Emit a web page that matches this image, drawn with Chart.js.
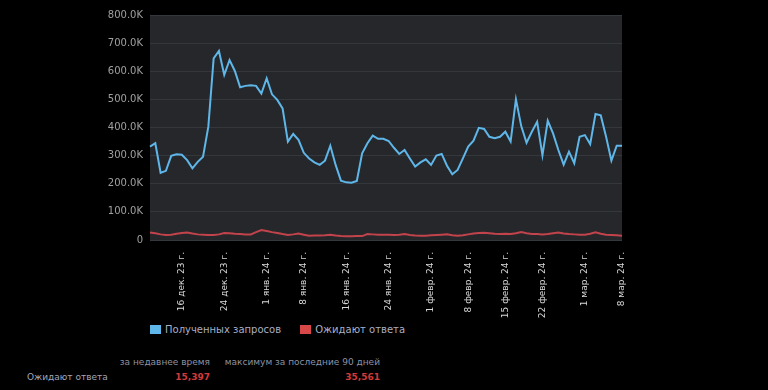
<!DOCTYPE html>
<html>
<head>
<meta charset="utf-8">
<script src="https://cdn.jsdelivr.net/npm/chart.js@4"></script>
<style>
    body { margin: 0; background: #000; width: 768px; height: 390px; overflow: hidden; font-family: 'DejaVu Sans', sans-serif; }
    #wrap { position: absolute; left: 0; top: 0; width: 768px; height: 320px; }
    .legend { position: absolute; left: 150px; top: 323px; font-size: 10px; color: #a9afc4; line-height: 14px; white-space: nowrap; }
    .legend span.box { display: inline-block; width: 11px; height: 9px; vertical-align: -1px; margin-right: 4px; }
    .legend span.item { margin-right: 16px; }
    .txt { position: absolute; font-size: 9px; white-space: nowrap; line-height: 12px; }
    .head { color: #8d92a0; top: 356px; }
    .val { color: #d23a3a; font-weight: bold; top: 371px; }
</style>
</head>
<body>
<div id="wrap"><canvas id="chart" width="768" height="320"></canvas></div>

<div class="legend">
    <span class="item"><span class="box" style="background:#5fb6e8"></span>Полученных запросов</span>
    <span class="item"><span class="box" style="background:#d84848"></span>Ожидают ответа</span>
</div>

<div class="txt head" style="right:558px">за недавнее время</div>
<div class="txt head" style="right:388px">максимум за последние 90 дней</div>
<div class="txt" style="left:27px; top:371px; color:#a0a6b8">Ожидают ответа</div>
<div class="txt val" style="right:558px">15,397</div>
<div class="txt val" style="right:388px">35,561</div>

<script>
// datos (en miles), 90 dias desde 10 dic. 2023
const received = [
    332, 344, 239, 246, 299, 305, 303, 284, 255, 278,
    296, 403, 646, 672, 587, 640, 601, 543, 548, 550,
    548, 521, 575, 518, 498, 468, 350, 377, 356, 310,
    290, 276, 267, 282, 335, 267, 211, 205, 204, 210,
    308, 344, 371, 360, 360, 352, 328, 306, 320, 290,
    261, 276, 287, 267, 300, 306, 264, 234, 249, 290,
    332, 353, 399, 395, 367, 362, 367, 385, 350, 500,
    405, 346, 385, 420, 301, 424, 379, 320, 268, 314,
    273, 367, 373, 341, 448, 443, 367, 282, 335, 335
];
const waiting = [
    27, 24, 20, 18, 19, 22, 25, 27, 23, 20,
    19, 18, 18, 20, 25, 24, 22, 21, 20, 20,
    28, 35.561, 32, 28, 25, 21, 18, 20, 23, 19,
    15, 16, 16, 17, 19, 16, 14, 13, 13, 14,
    14, 21, 20, 19, 19, 19, 18, 19, 21, 18,
    16, 15, 15, 17, 18, 19, 20, 17, 15, 17,
    20, 23, 25, 26, 24, 22, 21, 22, 21, 24,
    28, 24, 21, 21, 20, 21, 24, 27, 23, 21,
    20, 19, 19, 22, 27, 22, 19, 18, 17, 15.397
];
const tickLabels = [
    '16 дек. 23 г.', '24 дек. 23 г.', '1 янв. 24 г.', '8 янв. 24 г.',
    '16 янв. 24 г.', '24 янв. 24 г.', '1 февр. 24 г.', '8 февр. 24 г.',
    '15 февр. 24 г.', '22 февр. 24 г.', '1 мар. 24 г.', '8 мар. 24 г.'
];
const monthNames = ['янв.', 'февр.', 'мар.', 'апр.', 'мая', 'июн.', 'июл.', 'авг.', 'сент.', 'окт.', 'нояб.', 'дек.'];

// etiquetas de dias
const days = [];
for (let i = 0; i < received.length; i++) {
    const d = new Date(2023, 11, 10 + i);
    days.push(d.getDate() + ' ' + monthNames[d.getMonth()] + ' ' + String(d.getFullYear()).slice(2) + ' г.');
}

// fondo del area del grafico
const plotBg = {
    id: 'plotBg',
    beforeDraw(chart) {
        const a = chart.chartArea;
        chart.ctx.save();
        chart.ctx.fillStyle = '#25272b';
        chart.ctx.fillRect(a.left, a.top, a.right - a.left, a.bottom - a.top);
        chart.ctx.restore();
    }
};

new Chart(document.getElementById('chart').getContext('2d'), {
    type: 'line',
    data: {
        labels: days,
        datasets: [{
            label: 'Полученных запросов',
            data: received.map(v => v * 1000),
            borderColor: '#5fb6e8',
            borderWidth: 2,
            pointRadius: 0,
            tension: 0
        }, {
            label: 'Ожидают ответа',
            data: waiting.map(v => v * 1000),
            borderColor: '#c2434b',
            borderWidth: 2,
            pointRadius: 0,
            tension: 0
        }]
    },
    options: {
        responsive: false,
        animation: false,
        layout: { padding: { top: 15, right: 146, left: 0, bottom: 0 } },
        plugins: { legend: { display: false }, tooltip: { enabled: false } },
        scales: {
            x: {
                afterFit: s => { s.height = 80; },
                border: { display: false },
                grid: { display: false },
                ticks: {
                    autoSkip: false,
                    maxRotation: 90,
                    minRotation: 90,
                    padding: 4,
                    color: '#d8d8d8',
                    font: { family: 'DejaVu Sans', size: 9 },
                    callback: function (v) {
                        const l = this.getLabelForValue(v);
                        return tickLabels.includes(l) ? l : null;
                    }
                }
            },
            y: {
                min: 0,
                max: 800000,
                afterFit: s => { s.width = 150; },
                border: { display: false },
                grid: { color: '#34373c', drawTicks: false },
                ticks: {
                    stepSize: 100000,
                    padding: 7,
                    color: '#a0a0a0',
                    font: { family: 'DejaVu Sans', size: 10 },
                    callback: v => v === 0 ? '0' : (v / 1000).toFixed(1) + 'K'
                }
            }
        }
    },
    plugins: [plotBg]
});
</script>
</body>
</html>
